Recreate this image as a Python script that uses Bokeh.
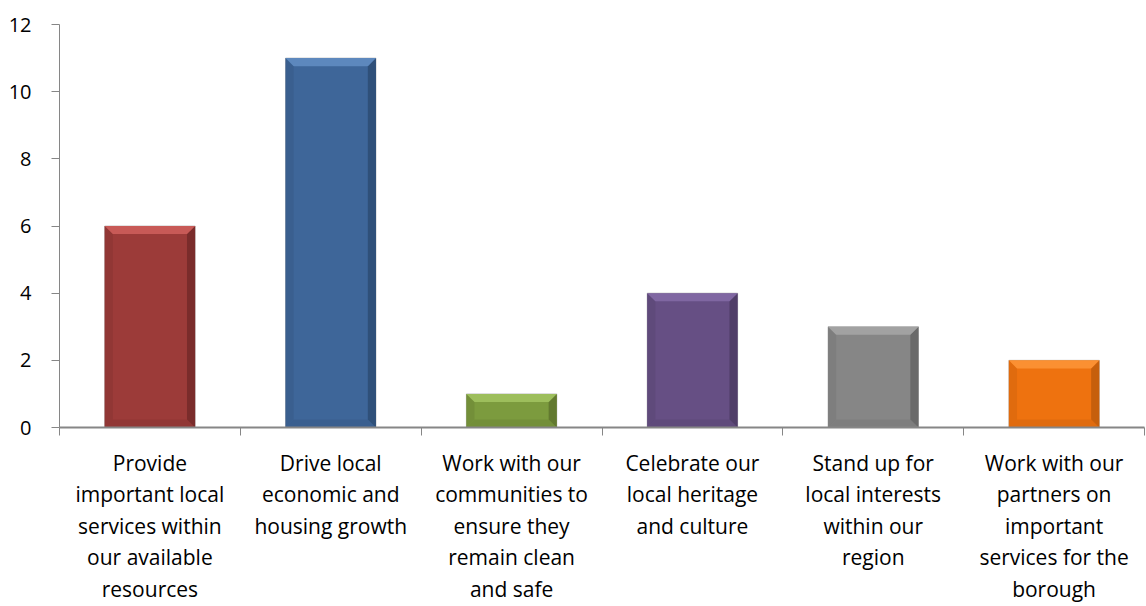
from bokeh.plotting import figure
from bokeh.models import FixedTicker, Range1d, ColumnDataSource
from bokeh.embed import file_html
from bokeh.resources import INLINE

categories = [
    "Provide\nimportant local\nservices within\nour available\nresources",
    "Drive local\neconomic and\nhousing growth",
    "Work with our\ncommunities to\nensure they\nremain clean\nand safe",
    "Celebrate our\nlocal heritage\nand culture",
    "Stand up for\nlocal interests\nwithin our\nregion",
    "Work with our\npartners on\nimportant\nservices for the\nborough",
]
values = [6, 11, 1, 4, 3, 2]
y_ticks = [0, 2, 4, 6, 8, 10, 12]

base_colors = ["#9C3B39", "#3E6699", "#7C9B3E", "#664F84", "#868686", "#EE720F"]
light_colors = ["#C85A57", "#5D88BD", "#9DBE5C", "#8067A2", "#A2A2A2", "#FB9032"]
dark_colors = ["#7A2C2B", "#2F5079", "#62792F", "#503E68", "#6A6A6A", "#C65F0C"]
edge_colors = ["#913735", "#3A5F8F", "#738F39", "#5F4A7B", "#7E7E7E", "#E06B0E"]

n = len(categories)
centers = [i + 0.5 for i in range(n)]
half_w = 0.25
bev_x = 0.045
bev_y = 0.24

p = figure(
    frame_width=1085, frame_height=403,
    x_range=Range1d(0, n), y_range=Range1d(0, 12),
    output_backend="svg", toolbar_location=None,
    min_border_left=59, min_border_right=1, min_border_top=24, min_border_bottom=178,
)
p.outline_line_color = None
p.xgrid.visible = False
p.ygrid.visible = False

src = ColumnDataSource(dict(x=centers, top=values, color=base_colors))
p.vbar(x="x", top="top", width=2 * half_w, bottom=0, fill_color="color",
       line_color="#A0A0A0", line_alpha=0.6, line_width=1, source=src)

# bevel facets derived from the data values
top_xs, top_ys, right_xs, right_ys, bot_xs, bot_ys, left_xs, left_ys = ([] for _ in range(8))
for c, v in zip(centers, values):
    l, r = c - half_w, c + half_w
    top_xs.append([l, r, r - bev_x, l + bev_x]); top_ys.append([v, v, v - bev_y, v - bev_y])
    right_xs.append([r, r, r - bev_x, r - bev_x]); right_ys.append([v, 0, bev_y, v - bev_y])
    bot_xs.append([l, r, r - bev_x, l + bev_x]); bot_ys.append([0, 0, bev_y, bev_y])
    left_xs.append([l, l, l + bev_x, l + bev_x]); left_ys.append([v, 0, bev_y, v - bev_y])

p.patches(left_xs, left_ys, fill_color=edge_colors, line_color=None)
p.patches(bot_xs, bot_ys, fill_color=edge_colors, line_color=None)
p.patches(right_xs, right_ys, fill_color=dark_colors, line_color=None)
p.patches(top_xs, top_ys, fill_color=light_colors, line_color=None)

axis_gray = "#868686"
font = "Open Sans"

xa = p.xaxis[0]
xa.ticker = FixedTicker(ticks=centers, minor_ticks=list(range(n + 1)))
xa.major_label_overrides = {c: lab for c, lab in zip(centers, categories)}
xa.major_tick_line_color = None
xa.major_tick_out = 0
xa.major_tick_in = 0
xa.minor_tick_line_color = axis_gray
xa.minor_tick_out = 8
xa.minor_tick_in = 0
xa.axis_line_color = axis_gray
xa.axis_line_width = 2
xa.major_label_text_font = font
xa.major_label_text_font_size = "21px"
xa.major_label_text_color = "#000000"
xa.major_label_text_line_height = 1.13
xa.major_label_standoff = 13

ya = p.yaxis[0]
ya.ticker = FixedTicker(ticks=y_ticks)
ya.minor_tick_line_color = None
ya.major_tick_line_color = axis_gray
ya.major_tick_out = 8
ya.major_tick_in = 0
ya.axis_line_color = axis_gray
ya.major_label_text_font = font
ya.major_label_text_font_size = "20px"
ya.major_label_text_color = "#000000"
ya.major_label_standoff = 20

open("out.html", "w").write(file_html(p, INLINE))
